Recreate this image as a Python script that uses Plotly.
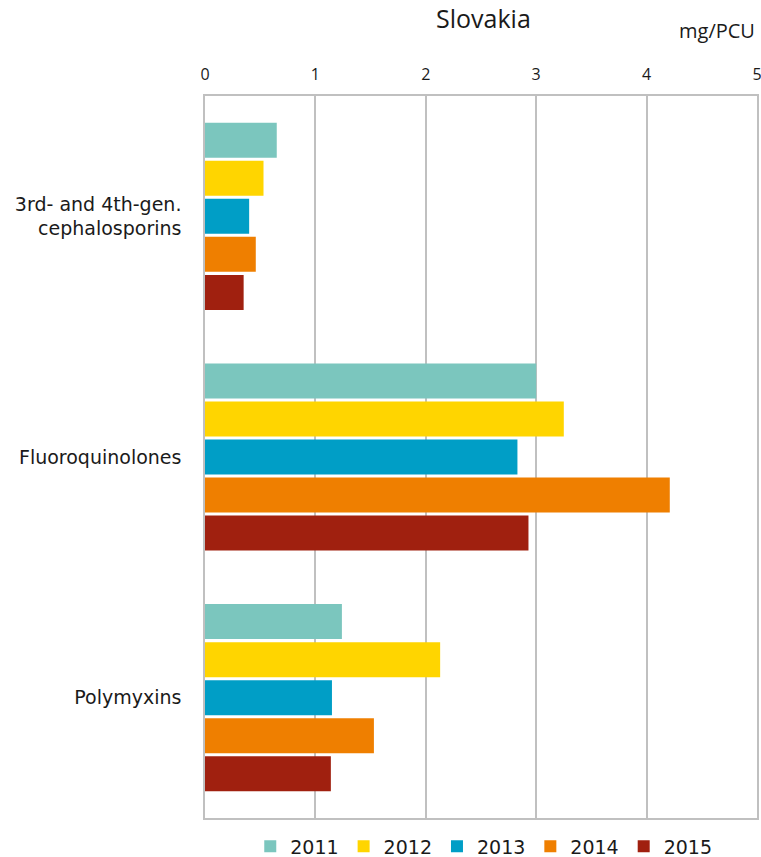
import plotly.graph_objects as go

categories = ["3rd- and 4th-gen.<br>cephalosporins", "Fluoroquinolones", "Polymyxins"]
years = ["2011", "2012", "2013", "2014", "2015"]
values = {
    "2011": [0.65, 3.00, 1.24],
    "2012": [0.53, 3.25, 2.13],
    "2013": [0.40, 2.83, 1.15],
    "2014": [0.46, 4.21, 1.53],
    "2015": [0.35, 2.93, 1.14],
}
colors = {
    "2011": "#7BC6BE",
    "2012": "#FFD500",
    "2013": "#009EC6",
    "2014": "#EF7F00",
    "2015": "#A0200F",
}

fig = go.Figure()
for yr in years:
    fig.add_trace(go.Bar(
        y=categories, x=values[yr], name=yr, orientation="h",
        marker=dict(color=colors[yr], line=dict(width=0)),
    ))

grid = "#C0C0C0"
fig.update_layout(
    width=761, height=857,
    margin=dict(l=205, r=4, t=96, b=39, autoexpand=False),
    plot_bgcolor="white", paper_bgcolor="white",
    barmode="group", bargap=0.21, bargroupgap=0.08,
    showlegend=True,
    legend=dict(orientation="h", x=0.505, xanchor="center", xref="paper",
                y=-0.013, yanchor="top", yref="paper",
                bgcolor="rgba(0,0,0,0)",
                font=dict(family="DejaVu Sans", size=19, color="#1a1a1a"),
                itemwidth=30, traceorder="normal"),
    xaxis=dict(side="top", range=[0, 5], dtick=1, showgrid=True, gridcolor=grid,
               gridwidth=1.5, showline=True, linecolor=grid, linewidth=1.5, mirror=True,
               zeroline=False, ticks="", ticklabelstandoff=8, ticklabeloverflow="allow",
               automargin=False,
               tickfont=dict(family="Open Sans", size=16, color="#1a1a1a")),
    yaxis=dict(autorange="reversed", showgrid=False, showline=True, linecolor=grid,
               linewidth=1.5, mirror=True, ticks="", ticklabelstandoff=18,
               automargin=False,
               tickfont=dict(family="DejaVu Sans", size=19, color="#1a1a1a")),
    annotations=[
        dict(text="Slovakia", xref="paper", yref="paper", x=0.505, y=1.0,
             yshift=78, xanchor="center", yanchor="middle", showarrow=False,
             font=dict(family="Open Sans", size=25, color="#1a1a1a")),
        dict(text="mg/PCU", xref="paper", yref="paper", x=1.0, y=1.0,
             yshift=66, xanchor="right", yanchor="middle", showarrow=False,
             font=dict(family="Open Sans", size=20, color="#1a1a1a")),
    ],
)

fig.write_html("out.html", config={"displayModeBar": False},
               post_script="document.body.style.margin='0';")
